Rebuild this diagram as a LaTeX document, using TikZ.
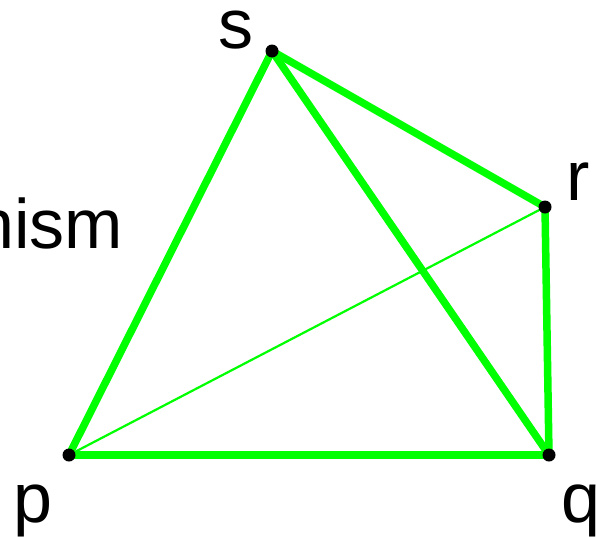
\documentclass[tikz,border=0pt]{standalone}
\usepackage{fontspec}
\setmainfont{Liberation Sans}
\usepackage{tikz}
\usetikzlibrary{positioning}
\definecolor{brightgreen}{RGB}{0,255,0}
\tikzset{
  dot/.style={circle, fill=black, inner sep=0pt, minimum size=13pt},
  edge/.style={draw=brightgreen, line width=7.5pt, line cap=round},
  thinedge/.style={draw=brightgreen, line width=2.2pt},
  lbl/.style={inner sep=0pt, anchor=base, font=\fontsize{70}{70}\selectfont}
}
\begin{document}
\begin{tikzpicture}[x=1pt, y=-1pt]
\useasboundingbox (0,0) rectangle (596,536);
\coordinate (s) at (272,51);
\coordinate (r) at (545,207);
\coordinate (p) at (69,455);
\coordinate (q) at (549,455);
\draw[thinedge] (p) -- (r);
\draw[edge] (s) -- (p);
\draw[edge] (s) -- (q);
\draw[edge] (s) -- (r);
\draw[edge] (r) -- (q);
\draw[edge] (p) -- (q);
\node[dot] (sdot) at (s) {};
\node[dot] (rdot) at (r) {};
\node[dot] (pdot) at (p) {};
\node[dot] (qdot) at (q) {};
\node[lbl] (slabel) at (236,48) {s};
\node[lbl] (rlabel) at (578,200) {r};
\node[lbl] (plabel) at (33,522) {p};
\node[lbl] (qlabel) at (581,522) {q};
\node[lbl, anchor=base west] (mech) at (-25,248) {nism};
\end{tikzpicture}
\end{document}
